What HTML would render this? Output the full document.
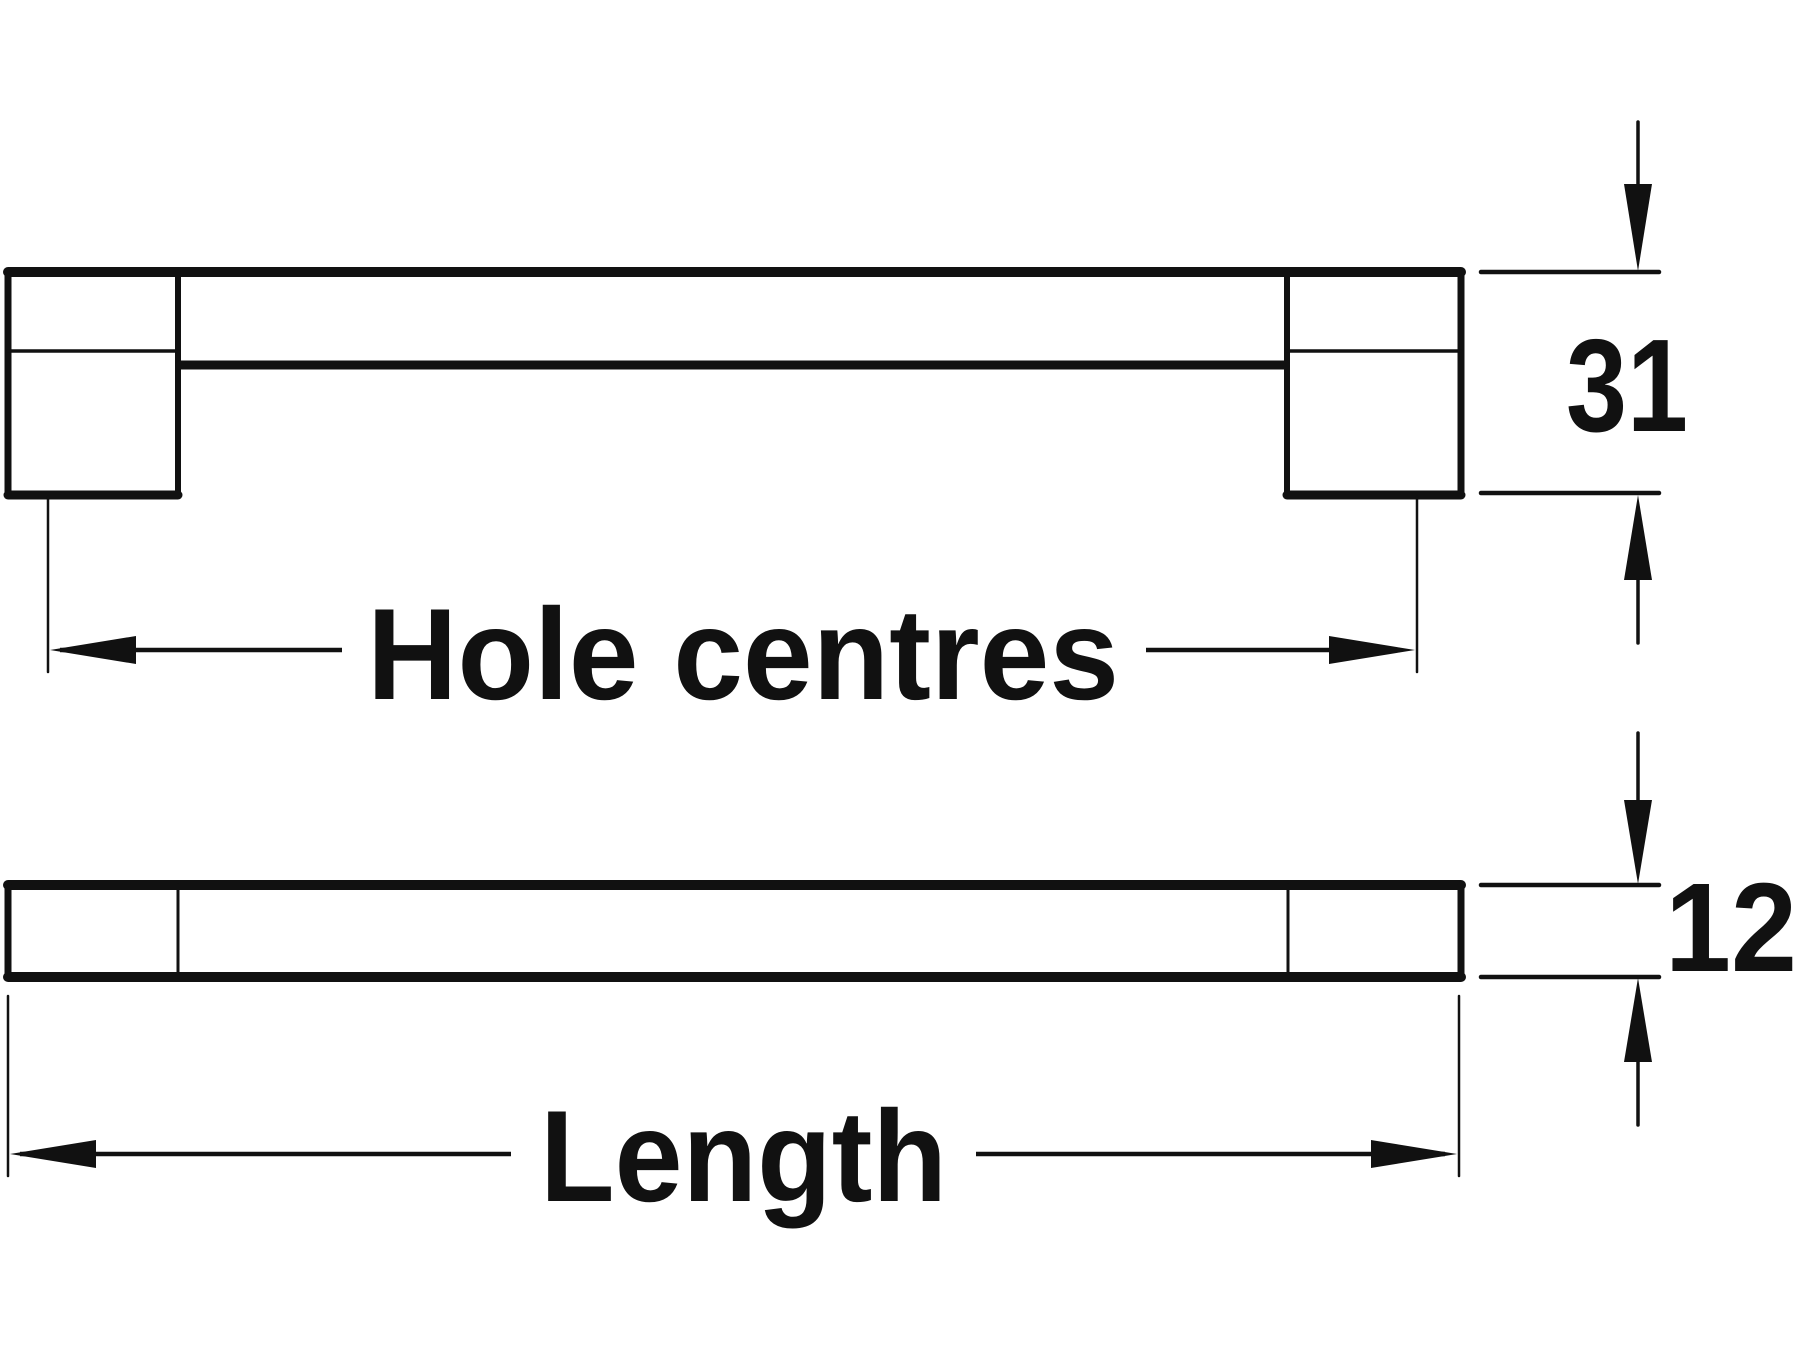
<!DOCTYPE html>
<html><head><style>html,body{margin:0;padding:0;background:#fff}svg{display:block}</style></head>
<body>
<svg width="1800" height="1350" viewBox="0 0 1800 1350" xmlns="http://www.w3.org/2000/svg">
<g stroke="#111" fill="none" stroke-linecap="round">
<line x1="8" y1="272" x2="1461" y2="272" stroke-width="10"/>
<line x1="8" y1="272" x2="8" y2="495" stroke-width="7"/>
<line x1="1461" y1="272" x2="1461" y2="495" stroke-width="7"/>
<line x1="178" y1="272" x2="178" y2="495" stroke-width="6"/>
<line x1="1287" y1="272" x2="1287" y2="495" stroke-width="6"/>
<line x1="8" y1="351" x2="178" y2="351" stroke-width="3.5"/>
<line x1="1287" y1="351" x2="1461" y2="351" stroke-width="3.5"/>
<line x1="180" y1="365" x2="1285" y2="365" stroke-width="9"/>
<line x1="8" y1="495" x2="178" y2="495" stroke-width="9"/>
<line x1="1287" y1="495" x2="1461" y2="495" stroke-width="9"/>
<line x1="48" y1="497" x2="48" y2="672" stroke-width="2.5"/>
<line x1="1417" y1="497" x2="1417" y2="672" stroke-width="2.5"/>
<line x1="60" y1="650" x2="342" y2="650" stroke-width="4.5" stroke-linecap="butt"/>
<line x1="1146" y1="650" x2="1400" y2="650" stroke-width="4.5" stroke-linecap="butt"/>
<line x1="1481" y1="272" x2="1659" y2="272" stroke-width="4.5"/>
<line x1="1481" y1="493" x2="1659" y2="493" stroke-width="4.5"/>
<line x1="1638" y1="122" x2="1638" y2="200" stroke-width="3.5"/>
<line x1="1638" y1="570" x2="1638" y2="643" stroke-width="3.5"/>
<line x1="8" y1="885" x2="1461" y2="885" stroke-width="10"/>
<line x1="8" y1="977" x2="1461" y2="977" stroke-width="10"/>
<line x1="8" y1="885" x2="8" y2="977" stroke-width="7"/>
<line x1="1461" y1="885" x2="1461" y2="977" stroke-width="7"/>
<line x1="178" y1="885" x2="178" y2="977" stroke-width="3"/>
<line x1="1288" y1="885" x2="1288" y2="977" stroke-width="3"/>
<line x1="8" y1="996" x2="8" y2="1176" stroke-width="2.5"/>
<line x1="1459" y1="996" x2="1459" y2="1176" stroke-width="2.5"/>
<line x1="20" y1="1154" x2="511" y2="1154" stroke-width="4.5" stroke-linecap="butt"/>
<line x1="976" y1="1154" x2="1445" y2="1154" stroke-width="4.5" stroke-linecap="butt"/>
<line x1="1481" y1="885" x2="1659" y2="885" stroke-width="4.5"/>
<line x1="1481" y1="977" x2="1659" y2="977" stroke-width="4.5"/>
<line x1="1638" y1="733" x2="1638" y2="810" stroke-width="3.5"/>
<line x1="1638" y1="1050" x2="1638" y2="1125" stroke-width="3.5"/>
</g>
<g fill="#111">
<polygon points="50,650 136,636 136,664"/>
<polygon points="1415,650 1329,636 1329,664"/>
<polygon points="10,1154 96,1140 96,1168"/>
<polygon points="1457,1154 1371,1140 1371,1168"/>
<polygon points="1638,271 1624,184 1652,184"/>
<polygon points="1638,495 1624,580 1652,580"/>
<polygon points="1638,884 1624,800 1652,800"/>
<polygon points="1638,978 1624,1062 1652,1062"/>
</g>
<g font-family="Liberation Sans, Arial, sans-serif" font-weight="bold" fill="#111">
<text x="367" y="699" font-size="130" textLength="752" lengthAdjust="spacingAndGlyphs">Hole centres</text>
<text x="540" y="1201" font-size="130" textLength="407" lengthAdjust="spacingAndGlyphs">Length</text>
<text x="1566" y="431" font-size="132" textLength="122" lengthAdjust="spacingAndGlyphs">31</text>
<text x="1665" y="971" font-size="126" textLength="132" lengthAdjust="spacingAndGlyphs">12</text>
</g>
</svg>
</body></html>
